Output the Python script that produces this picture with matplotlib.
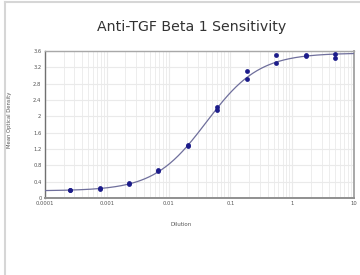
import matplotlib
matplotlib.use("Agg")
import matplotlib.pyplot as plt
import numpy as np
from matplotlib.lines import Line2D
from matplotlib.ticker import FixedLocator, NullFormatter

# replicate readings (two wells per dilution)
dilution = [5.0, 5.0, 1.667, 1.667, 0.556, 0.556, 0.185, 0.185,
            0.0617, 0.0617, 0.0206, 0.0206, 0.00686, 0.00686,
            0.00229, 0.00229, 0.000762, 0.000762, 0.000254, 0.000254]
optical_density = [3.53, 3.42, 3.49, 3.48, 3.49, 3.30, 3.12, 2.92,
                   2.22, 2.15, 1.31, 1.28, 0.68, 0.66,
                   0.36, 0.35, 0.24, 0.23, 0.20, 0.19]

# four parameter logistic fit
FIT_BOTTOM = 0.175
FIT_TOP = 3.55
FIT_EC50 = 0.041
FIT_SLOPE = 1.02

y_ticks = [0, 0.4, 0.8, 1.2, 1.6, 2, 2.4, 2.8, 3.2, 3.6]
y_tick_labels = ['0', '0.4', '0.8', '1.2', '1.6', '2', '2.4', '2.8', '3.2', '3.6']
x_ticks = [0.0001, 0.001, 0.01, 0.1, 1, 10]
x_tick_labels = ['0.0001', '0.001', '0.01', '0.1', '1', '10']

MARKER_COLOUR = '#1c1c8a'
CURVE_COLOUR = '#6f6f9c'
GRID_COLOUR = '#eaeaea'
TEXT_COLOUR = '#555555'

fig = plt.figure(figsize=(3.6, 2.75), dpi=100)
ax = fig.add_axes([45 / 360, 77 / 275, 309 / 360, 147 / 275])

curve_x = np.logspace(-4, 1, 300)
curve_y = FIT_BOTTOM + (FIT_TOP - FIT_BOTTOM) / (
    1 + (FIT_EC50 / curve_x) ** FIT_SLOPE)
ax.plot(curve_x, curve_y, color=CURVE_COLOUR, linewidth=0.9, zorder=3)
ax.scatter(dilution, optical_density, s=12, color=MARKER_COLOUR, zorder=4,
           linewidths=0)

ax.set_xscale('log')
ax.set_xlim(0.0001, 10)
ax.set_ylim(0, 3.6)
ax.set_xticks(x_ticks)
ax.set_xticklabels(x_tick_labels)
minor = [m * 10.0 ** e for e in range(-4, 1) for m in range(2, 10)]
ax.xaxis.set_minor_locator(FixedLocator(minor))
ax.xaxis.set_minor_formatter(NullFormatter())
ax.set_yticks(y_ticks)
ax.set_yticklabels(y_tick_labels)

ax.grid(True, which='major', color=GRID_COLOUR, linewidth=0.8)
ax.grid(True, which='minor', axis='x', color=GRID_COLOUR, linewidth=0.6)
ax.set_axisbelow(True)
ax.tick_params(which='both', length=0, labelsize=3.8, colors=TEXT_COLOUR,
               pad=2.5)

ax.spines['left'].set_color('#707070')
ax.spines['bottom'].set_color('#909090')
ax.spines['top'].set_color('#a8a8a8')
ax.spines['right'].set_color('#a8a8a8')
ax.spines['bottom'].set_linewidth(1.4)
ax.spines['right'].set_linewidth(1.4)
ax.spines['left'].set_linewidth(1.0)
ax.spines['top'].set_linewidth(1.0)

fig.text(192 / 360, 1 - 27 / 275, 'Anti-TGF Beta 1 Sensitivity',
         ha='center', va='center', fontsize=10.2, color='#333333')
fig.text(10 / 360, 1 - 120 / 275, 'Mean Optical Density', rotation=90,
         ha='center', va='center', fontsize=3.8, color=TEXT_COLOUR)
fig.text(181 / 360, 1 - 225 / 275, 'Dilution', ha='center', va='center',
         fontsize=4, color=TEXT_COLOUR)

# light frame on the left and top edges of the picture
fig.add_artist(Line2D([5 / 360, 5 / 360], [0, 1 - 2 / 275],
                      color='#d6d6d6', linewidth=1.5))
fig.add_artist(Line2D([5 / 360, 1], [1 - 2 / 275, 1 - 2 / 275],
                      color='#d6d6d6', linewidth=1.5))

fig.savefig('out.png', dpi=100)
